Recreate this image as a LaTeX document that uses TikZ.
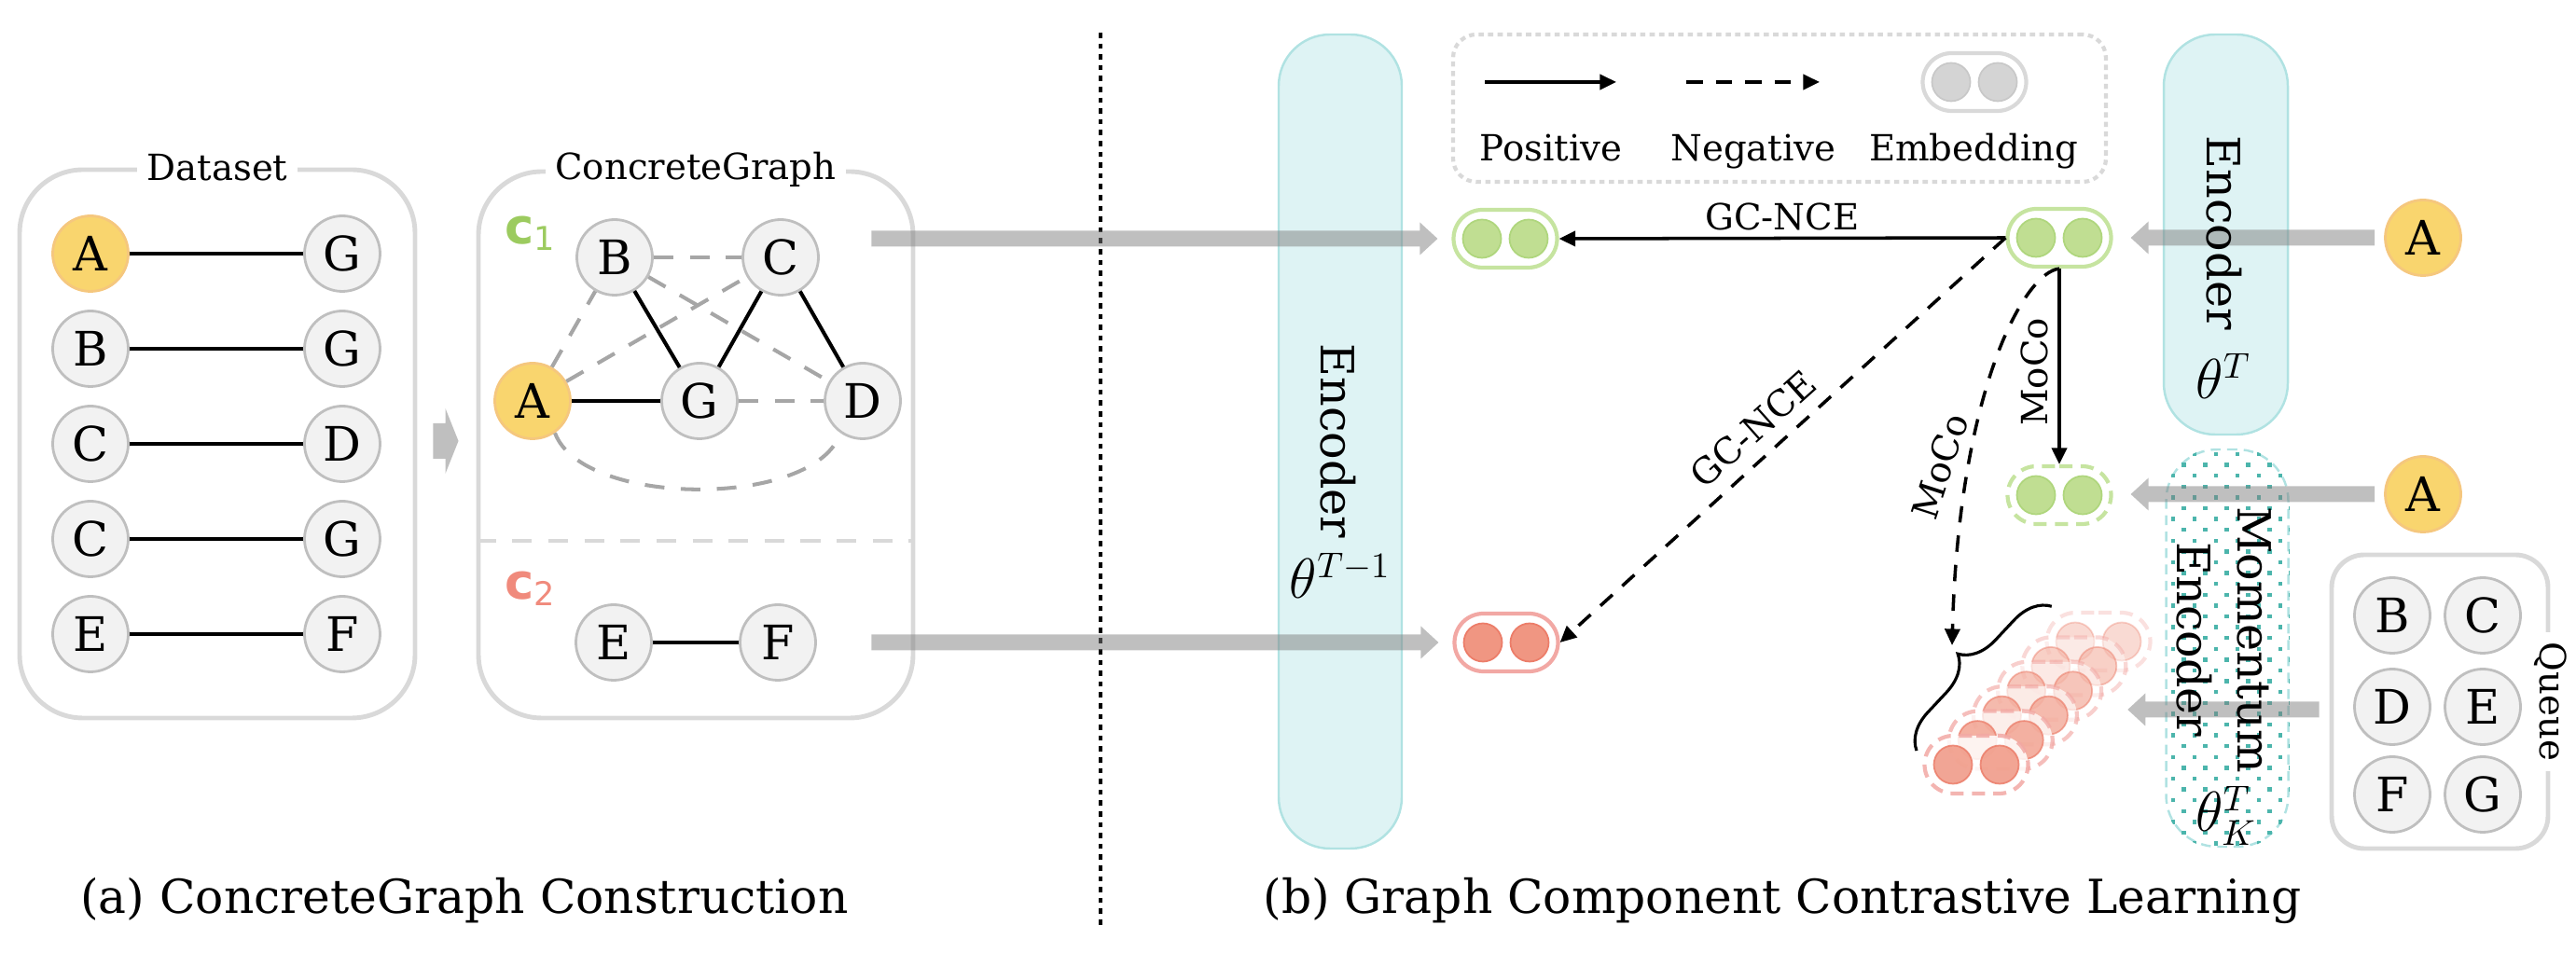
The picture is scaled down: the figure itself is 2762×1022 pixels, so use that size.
\documentclass[tikz,border=0pt]{standalone}
\usepackage{fontspec}
\setmainfont{DejaVu Serif}
\newfontfamily\sansfont{DejaVu Sans}
\usetikzlibrary{arrows.meta,shapes.misc,decorations.pathreplacing,calc}
\definecolor{nodefill}{HTML}{F2F2F2}
\definecolor{nodeline}{HTML}{BFBFBF}
\definecolor{afill}{HTML}{F9D56E}
\definecolor{aline}{HTML}{F5C77E}
\definecolor{boxline}{HTML}{D9D9D9}
\definecolor{dashgray}{HTML}{A6A6A6}
\definecolor{encfill}{HTML}{DEF3F4}
\definecolor{encline}{HTML}{B0E2E2}
\definecolor{dotteal}{HTML}{4CB5AC}
\definecolor{gfill}{HTML}{C0DE92}
\definecolor{gline}{HTML}{C6E4A0}
\definecolor{gcirc}{HTML}{AFD67D}
\definecolor{rfill}{HTML}{F09682}
\definecolor{rline}{HTML}{F2A8A4}
\definecolor{rcirc}{HTML}{EC7D69}
\definecolor{cgreen}{HTML}{9CCB5F}
\definecolor{cred}{HTML}{F08A7C}
\definecolor{legfill}{HTML}{D4D4D4}
\definecolor{legcirc}{HTML}{C8C8C8}
\tikzset{
 gn/.style={circle, draw=nodeline, fill=nodefill, line width=0.8pt, minimum size=8.1mm, inner sep=0pt, font=\fontsize{14.5}{14.5}\selectfont},
 an/.style={gn, draw=aline, fill=afill},
 sedge/.style={line width=1.15pt},
 dedge/.style={line width=1.15pt, draw=dashgray, dash pattern=on 6pt off 5pt},
 bigbox/.style={draw=boxline, line width=1.4pt, rounded corners=6.8mm, inner sep=0pt},
 boxtitle/.style={fill=white, inner xsep=3pt, inner ysep=1pt, font=\fontsize{11}{13}\selectfont},
 enc/.style={draw=encline, fill=encfill, line width=0.7pt, rounded corners=5.5mm, inner sep=0pt},
 emb/.style={rounded rectangle, fill=white, line width=1.2pt, minimum width=11.1mm, minimum height=6.2mm, inner sep=0pt},
 ecirc/.style={circle, minimum size=4.1mm, inner sep=0pt, line width=0.5pt},
 posarr/.style={line width=1pt, -{Triangle[length=5pt,width=4.6pt]}},
 negarr/.style={posarr, dash pattern=on 5pt off 4pt},
 garr/.style={fill=gray, fill opacity=0.5},
 lbl/.style={font=\fontsize{11}{11}\selectfont, inner sep=1.5pt},
 enctxt/.style={font=\fontsize{14}{18.5}\selectfont, rotate=-90, align=center, inner sep=0pt},
 mth/.style={font=\fontsize{16}{16}\selectfont, inner sep=0pt},
}
\newcommand\embed[6]{%
  \node[emb,#3,#6] (#1) at (#2) {};
  \node[ecirc,fill=#4,draw=#5,#6] (#1-l) at ($(#1)+(-25,0)$) {};
  \node[ecirc,fill=#4,draw=#5,#6] (#1-r) at ($(#1)+(25,0)$) {};}
\newcommand\garrowR[5]{\fill[garr] let \p1=(#1), \p2=(#2) in (\x1,\y1-#3) -- (\x2-#5,\y1-#3) -- (\x2-#5,\y1-#4) -- (\x2,\y1) -- (\x2-#5,\y1+#4) -- (\x2-#5,\y1+#3) -- (\x1,\y1+#3) -- cycle;}
\newcommand\garrowL[5]{\fill[garr] let \p1=(#1), \p2=(#2) in (\x1,\y1-#3) -- (\x2+#5,\y1-#3) -- (\x2+#5,\y1-#4) -- (\x2,\y1) -- (\x2+#5,\y1+#4) -- (\x2+#5,\y1+#3) -- (\x1,\y1+#3) -- cycle;}
\begin{document}
\begin{tikzpicture}[x=0.1mm,y=-0.1mm]
\useasboundingbox (0,0) rectangle (2762,1022);

% ---------------- panel (a): Dataset
\node[bigbox, minimum width=42.4mm, minimum height=58.8mm] (dsbox) at (233,476) {};
\node[boxtitle] (dstitle) at (dsbox.north) {Dataset};
\node[an] (d1a) at (97,272) {A}; \node[gn] (d1b) at (367,272) {G};
\node[gn] (d2a) at (97,374) {B}; \node[gn] (d2b) at (367,374) {G};
\node[gn] (d3a) at (97,476) {C}; \node[gn] (d3b) at (367,476) {D};
\node[gn] (d4a) at (97,578) {C}; \node[gn] (d4b) at (367,578) {G};
\node[gn] (d5a) at (97,680) {E}; \node[gn] (d5b) at (367,680) {F};
\foreach \i in {1,...,5} \draw[sedge] (d\i a) -- (d\i b);

% ---------------- panel (a): ConcreteGraph
\node[bigbox, minimum width=46.6mm, minimum height=58.6mm] (cgbox) at (746,477) {};
\node[boxtitle] (cgtitle) at (cgbox.north) {ConcreteGraph};
\coordinate (divy) at (0,580);
\draw[boxline, line width=1.4pt, dash pattern=on 6pt off 5pt] (cgbox.west |- divy) -- (cgbox.east |- divy);
\node[anchor=base west, text=cgreen, inner sep=0pt] (c1) at (541,262) {{\sansfont\bfseries\fontsize{15}{15}\selectfont c}{\sansfont\fontsize{10}{10}\selectfont\raisebox{-1.8pt}{1}}};
\node[anchor=base west, text=cred, inner sep=0pt] (c2) at (541,643) {{\sansfont\bfseries\fontsize{15}{15}\selectfont c}{\sansfont\fontsize{10}{10}\selectfont\raisebox{-1.8pt}{2}}};
\node[gn] (gB) at (659,276) {B};
\node[gn] (gC) at (837,276) {C};
\node[an] (gA) at (571,430) {A};
\node[gn] (gG) at (750,430) {G};
\node[gn] (gD) at (925,430) {D};
\node[gn] (gE) at (658,689) {E};
\node[gn] (gF) at (834,689) {F};
\draw[dedge] (gB) -- (gC);
\draw[dedge] (gA) -- (gB);
\draw[dedge] (gA) -- (gC);
\draw[dedge] (gB) -- (gD);
\draw[dedge] (gG) -- (gD);
\draw[dedge] (gA.-55) .. controls (625,545) and (875,545) .. (gD.-125);
\draw[sedge] (gA) -- (gG);
\draw[sedge] (gB) -- (gG);
\draw[sedge] (gC) -- (gG);
\draw[sedge] (gC) -- (gD);
\draw[sedge] (gE) -- (gF);

% arrow between the two boxes
\garrowR{$(dsbox.east)+(17,-3)$}{$(cgbox.west)+(-19,-3)$}{1.9mm}{3.5mm}{1.4mm}

% divider
\coordinate (dv1) at (1180,35);
\coordinate (dv2) at (1180,995);
\draw[line width=1.4pt, dash pattern=on 1.6pt off 1.7pt] (dv1) -- (dv2);

% ---------------- panel (b)
\node[enc, minimum width=13.2mm, minimum height=87.3mm] (encA) at (1437,473.5) {};
\node[enc, minimum width=13.3mm, minimum height=42.9mm] (encB) at (2386.5,251.5) {};
\node[draw=encline, dash pattern=on 3pt off 2pt, line width=0.7pt, rounded corners=5.5mm, minimum width=13.1mm, minimum height=42.6mm, inner sep=0pt] (mom) at (2388,695) {};
\begin{scope}
\clip[rounded corners=5.5mm] (mom.south west) rectangle (mom.north east);
\foreach \j in {0,...,37} {
  \foreach \k in {0,...,6} {
    \fill[dotteal] ({2330+23*\k+11.5*mod(\j,2)-2.2},{487+11.6*\j-2.2}) rectangle +(4.4,4.4);
  }
}
\end{scope}

% legend
\node[draw=boxline, line width=1.2pt, dash pattern=on 1.6pt off 1.3pt, rounded corners=2.5mm, minimum width=70mm, minimum height=15.8mm] (leg) at (1908,116) {};
\coordinate (lp1) at (1592,88); \coordinate (lp2) at (1733,88);
\coordinate (ln1) at (1808,88); \coordinate (ln2) at (1951,88);
\draw[posarr] (lp1) -- (lp2);
\draw[negarr] (ln1) -- (ln2);
\embed{lemb}{2117,88}{draw=boxline}{legfill}{legcirc}{}
\node[lbl, anchor=base] (lpos) at (1663,173) {Positive};
\node[lbl, anchor=base] (lneg) at (1880,173) {Negative};
\node[lbl, anchor=base] (lembt) at (2116,173) {Embedding};

% embeddings
\embed{topL}{1614,256}{draw=gline}{gfill}{gcirc}{}
\embed{red}{1615,689}{draw=rline}{rfill}{rcirc}{}
\embed{topR}{2208,255}{draw=gline}{gfill}{gcirc}{}
\embed{dashG}{2208,531}{draw=gline, dash pattern=on 4pt off 2.5pt}{gfill}{gcirc}{}
\foreach \i/\op in {5/0.35,4/0.45,3/0.55,2/0.65,1/0.75,0/0.85} {
  \embed{st\i}{{2119+26.2*\i},{820-26.4*\i}}{draw=rline, dash pattern=on 4pt off 2.5pt}{rfill}{rcirc}{opacity=\op}
}

% input nodes
\node[an] (A1) at (2598,255) {A};
\node[an] (A2) at (2598,530) {A};
\node[bigbox, rounded corners=3.5mm, minimum width=23.2mm, minimum height=31.5mm] (queue) at (2616,752.5) {};
\node[gn] (qB) at (2565,660) {B}; \node[gn] (qC) at (2662,660) {C};
\node[gn] (qD) at (2565,758) {D}; \node[gn] (qE) at (2662,758) {E};
\node[gn] (qF) at (2565,852) {F}; \node[gn] (qG) at (2662,852) {G};
\node[fill=white, rotate=-90, inner xsep=3pt, inner ysep=1pt, font=\fontsize{11}{11}\selectfont] (qlbl) at (queue.east) {Queue};

% gray arrows
\garrowR{$(cgbox.east |- topL)+(-47,0)$}{$(topL.west)+(-15,0)$}{0.85mm}{1.75mm}{1.9mm}
\garrowR{$(cgbox.east |- red)+(-47,0)$}{$(red.west)+(-15,0)$}{0.85mm}{1.75mm}{1.9mm}
\garrowL{$(A1.west)+(-10,0)$}{$(topR.east)+(19,0)$}{0.85mm}{1.75mm}{1.9mm}
\garrowL{$(A2.west)+(-10,0)$}{$(dashG.east)+(19,0)$}{0.85mm}{1.75mm}{1.9mm}
\coordinate (qy) at (0,761);
\garrowL{$(queue.west |- qy)+(-11,0)$}{$(mom.west |- qy)+(-40,0)$}{0.85mm}{1.75mm}{1.9mm}

% encoder texts
\node[enctxt] (encAt) at (1435,473) {Encoder};
\node[mth] (encAm) at (1437,617) {$\theta^{T-1}$};
\node[enctxt] (encBt) at (2385,250) {Encoder};
\node[mth] (encBm) at (2384,403) {$\theta^{T}$};
\node[enctxt] (momt) at (2385,686) {Momentum\\Encoder};
\node[mth] (momm) at (2387,875) {$\theta_K^{T}$};

% contrastive arrows
\draw[posarr] (topR.west) -- (topL.east);
\node[lbl, anchor=base] (l1) at (1911,247) {GC-NCE};
\draw[negarr] (topR.west) -- (red.east);
\node[lbl, rotate=41.8] (l2) at (1880,460) {GC-NCE};
\draw[posarr] (topR.south) -- (dashG.north);
\node[lbl, rotate=90] (l3) at (2181,399) {MoCo};
\coordinate (bt) at (2093,692);
\draw[negarr] (topR.south) .. controls (2170,292) and (2100,420) .. (bt);
\node[lbl, rotate=72] (l4) at (2080,500) {MoCo};
\coordinate (br1) at (2055,805);
\coordinate (br2) at (2200,650);
\draw[decorate, decoration={brace, amplitude=11pt}, line width=0.9pt] (br1) -- (br2);

% captions
\node[anchor=base, font=\fontsize{14.3}{16}\selectfont] (capa) at (498,980) {(a) ConcreteGraph Construction};
\node[anchor=base, font=\fontsize{14.3}{16}\selectfont] (capb) at (1911,980) {(b) Graph Component Contrastive Learning};
\end{tikzpicture}
\end{document}
